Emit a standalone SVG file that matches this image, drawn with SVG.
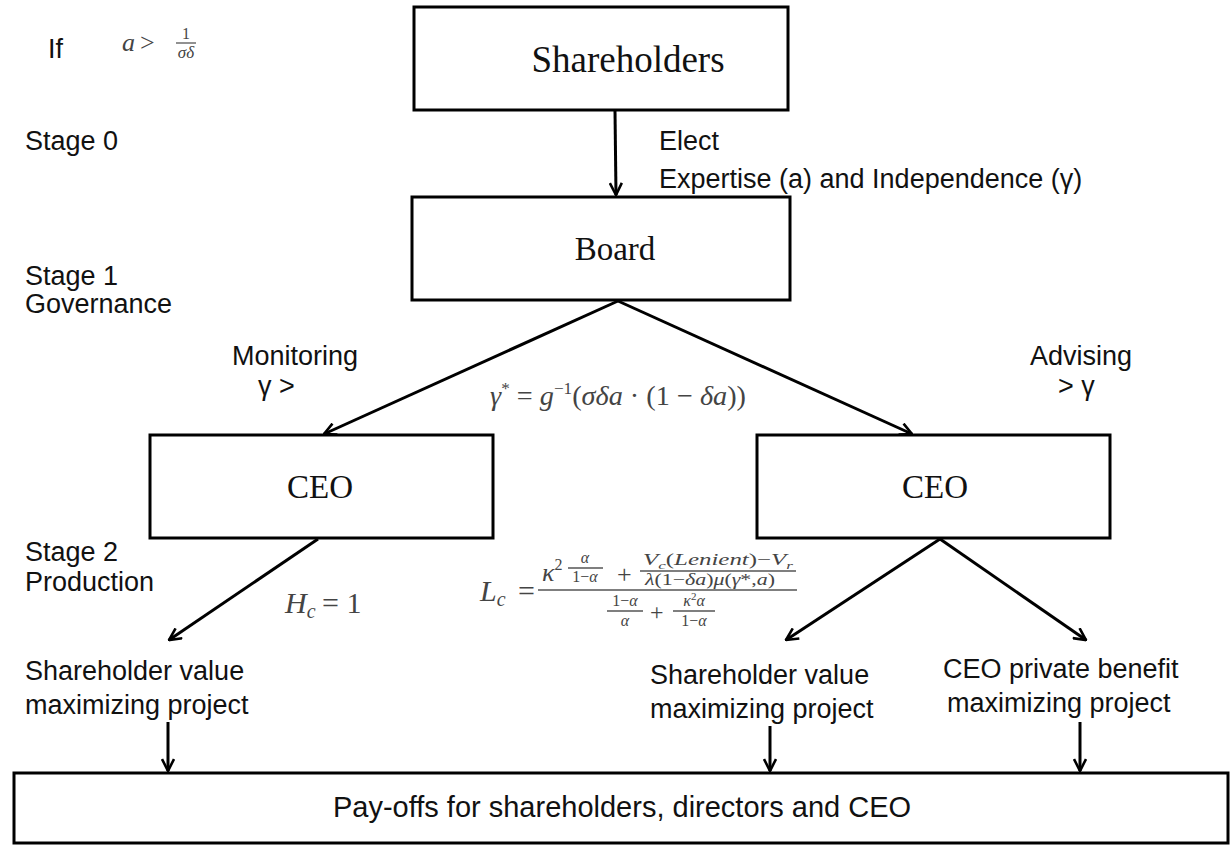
<svg xmlns="http://www.w3.org/2000/svg" width="1231" height="845" viewBox="0 0 1231 845">
<defs>
<marker id="arr" viewBox="0 0 14 14" refX="13" refY="7" markerWidth="14" markerHeight="14" markerUnits="userSpaceOnUse" orient="auto">
<path d="M1,1 L13,7 L1,13" fill="none" stroke="#000" stroke-width="2.6"/>
</marker>
<style>
.box{fill:#fff;stroke:#000;stroke-width:3}
.lbl{font-family:"Liberation Serif","Times New Roman",serif;font-size:33px;fill:#111;text-anchor:middle}
.t{font-family:"Liberation Sans",Arial,sans-serif;font-size:27px;fill:#111}
.m{font-family:"Liberation Serif","Times New Roman",serif;fill:#444;font-style:italic}
.mr{font-family:"Liberation Serif","Times New Roman",serif;fill:#444;font-style:normal}
.c{stroke:#000;stroke-width:3;fill:none;marker-end:url(#arr)}
.bar{stroke:#555;stroke-width:1.3}
</style>
</defs>
<rect width="1231" height="845" fill="#fff"/>

<g id="shareholders"><rect class="box" x="414" y="7" width="374" height="103"/><text class="lbl" x="628" y="72" style="font-size:37px">Shareholders</text></g>
<g id="board"><rect class="box" x="412" y="197" width="378" height="103"/><text class="lbl" x="615" y="260">Board</text></g>
<g id="ceo-left"><rect class="box" x="150" y="435" width="343" height="103"/><text class="lbl" x="320" y="498">CEO</text></g>
<g id="ceo-right"><rect class="box" x="757" y="435" width="353" height="103"/><text class="lbl" x="935" y="498">CEO</text></g>
<g id="payoffs"><rect class="box" x="14" y="773" width="1214" height="70"/><text class="t" x="622" y="817" text-anchor="middle" style="font-size:29px">Pay-offs for shareholders, directors and CEO</text></g>

<g id="sv-left"><text class="t" x="25" y="680">Shareholder value</text><text class="t" x="25" y="714">maximizing project</text></g>
<g id="sv-right"><text class="t" x="650" y="684">Shareholder value</text><text class="t" x="650" y="718">maximizing project</text></g>
<g id="ceo-benefit"><text class="t" x="943" y="678">CEO private benefit</text><text class="t" x="947" y="712">maximizing project</text></g>

<g id="connectors">
<line class="c" x1="615" y1="111" x2="616" y2="195"/>
<line class="c" x1="618" y1="301" x2="324" y2="434"/>
<line class="c" x1="618" y1="301" x2="912" y2="434"/>
<line class="c" x1="318" y1="539" x2="169" y2="640"/>
<line class="c" x1="940" y1="539" x2="786" y2="640"/>
<line class="c" x1="940" y1="539" x2="1086" y2="640"/>
<line class="c" x1="168" y1="722" x2="168" y2="771"/>
<line class="c" x1="770" y1="726" x2="770" y2="771"/>
<line class="c" x1="1080" y1="722" x2="1080" y2="771"/>
</g>

<g id="labels">
<text class="t" x="48" y="58">If</text>
<text class="t" x="25" y="150">Stage 0</text>
<text class="t" x="25" y="285">Stage 1</text>
<text class="t" x="25" y="313">Governance</text>
<text class="t" x="25" y="561">Stage 2</text>
<text class="t" x="25" y="591">Production</text>
<text class="t" x="659" y="150">Elect</text>
<text class="t" x="659" y="188">Expertise (a) and Independence (γ)</text>
<text class="t" x="232" y="365">Monitoring</text>
<text class="t" x="258" y="395">γ &gt;</text>
<text class="t" x="1030" y="365">Advising</text>
<text class="t" x="1058" y="395">&gt;  γ</text>
</g>

<g id="formulas">
<text class="m" x="122" y="51" font-size="26">a</text>
<text class="mr" x="140" y="51" font-size="26">&gt;</text>
<text class="mr" x="186" y="39" font-size="16" text-anchor="middle">1</text>
<line class="bar" x1="176" y1="43" x2="196" y2="43"/>
<text class="m" x="186" y="58" font-size="17" text-anchor="middle">σδ</text>

<text class="m" x="490" y="405" font-size="28" textLength="256" lengthAdjust="spacingAndGlyphs">γ<tspan class="mr" dy="-11" font-size="17">*</tspan><tspan class="mr" dy="11"> = </tspan>g<tspan class="mr" dy="-11" font-size="17">−1</tspan><tspan class="mr" dy="11">(</tspan>σδa<tspan class="mr"> · (1 − </tspan>δa<tspan class="mr">))</tspan></text>

<text class="m" x="285" y="613" font-size="30">H<tspan dy="5" font-size="20">c</tspan></text>
<text class="mr" x="322" y="613" font-size="30">= 1</text>

<text class="m" x="480" y="601" font-size="30">L<tspan dy="5" font-size="20">c</tspan></text>
<text class="mr" x="518" y="601" font-size="30">=</text>
<line class="bar" x1="538" y1="590" x2="797" y2="590"/>
<text class="m" x="542" y="581" font-size="26">κ<tspan class="mr" dy="-11" font-size="16">2</tspan></text>
<text class="m" x="585" y="563" font-size="16" text-anchor="middle">α</text>
<line class="bar" x1="568" y1="568" x2="603" y2="568"/>
<text class="mr" x="585" y="582" font-size="16" text-anchor="middle">1−<tspan font-style="italic">α</tspan></text>
<text class="mr" x="617" y="583" font-size="26">+</text>
<text class="m" x="643" y="565" font-size="16" textLength="150" lengthAdjust="spacingAndGlyphs">V<tspan dy="4" font-size="11">c</tspan><tspan class="mr" dy="-4">(</tspan>Lenient<tspan class="mr">)−</tspan>V<tspan dy="4" font-size="11">r</tspan></text>
<line class="bar" x1="640" y1="571" x2="796" y2="571"/>
<text class="m" x="645" y="585" font-size="16" textLength="130" lengthAdjust="spacingAndGlyphs">λ<tspan class="mr">(1−</tspan>δa<tspan class="mr">)</tspan>μ<tspan class="mr">(</tspan>γ<tspan class="mr">*,</tspan>a<tspan class="mr">)</tspan></text>
<text class="mr" x="625" y="606" font-size="16" text-anchor="middle">1−<tspan font-style="italic">α</tspan></text>
<line class="bar" x1="607" y1="611" x2="643" y2="611"/>
<text class="m" x="625" y="626" font-size="16" text-anchor="middle">α</text>
<text class="mr" x="650" y="620" font-size="24">+</text>
<text class="m" x="694" y="606" font-size="16" text-anchor="middle">κ<tspan class="mr" dy="-6" font-size="11">2</tspan><tspan dy="6">α</tspan></text>
<line class="bar" x1="673" y1="611" x2="715" y2="611"/>
<text class="mr" x="694" y="626" font-size="16" text-anchor="middle">1−<tspan font-style="italic">α</tspan></text>
</g>
</svg>
